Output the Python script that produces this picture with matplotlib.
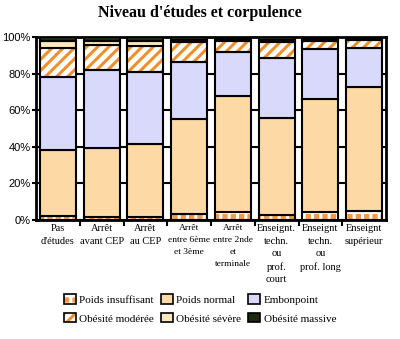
import matplotlib
matplotlib.use("Agg")
import matplotlib.pyplot as plt
import numpy as np
from matplotlib.patches import Patch

# categories (niveau d'etudes)
categories = ["Pas\nd'études", "Arrêt\navant CEP", "Arrêt\nau CEP",
              "Arrêt\nentre 6ème\net 3ème", "Arrêt\nentre 2nde\net\nterminale",
              "Enseignt.\ntechn.\nou\nprof.\ncourt", "Enseignt\ntechn.\nou\nprof. long",
              "Enseignt\nsupérieur"]

# shares in %
insuffisant = [2.0, 1.5, 1.5, 3.5, 4.3, 2.8, 4.3, 5.0]
normal = [36.3, 38.0, 40.0, 51.5, 63.7, 52.8, 61.7, 67.4]
embonpoint = [39.7, 42.5, 39.3, 31.3, 24.0, 32.7, 27.3, 21.7]
moderee = [15.8, 13.6, 14.2, 11.0, 5.8, 9.1, 4.7, 4.3]
severe = [4.2, 2.2, 2.8, 1.3, 1.0, 1.2, 1.0, 0.8]
massive = [2.0, 2.2, 2.2, 1.4, 1.2, 1.4, 1.0, 0.8]

labels = ["Poids insuffisant", "Poids normal", "Embonpoint",
          "Obésité modérée", "Obésité sévère", "Obésité massive"]

orange = '#f0902a'
# (face, hatch, hatch color)
styles = [('#f29a45', '++', 'white'),
          ('#fdd9a6', None, None),
          ('#d9d9fb', None, None),
          ('white', '///', orange),
          ('#fde8bc', None, None),
          ('#1e2a10', None, None)]

plt.rcParams['hatch.linewidth'] = 2.2

fig = plt.figure(figsize=(4, 3.39), dpi=100)
ax = fig.add_axes([0.09, 0.351, 0.875, 0.54])

x = np.arange(len(categories))
width = 0.82
series = [insuffisant, normal, embonpoint, moderee, severe, massive]
bottom = np.zeros(len(categories))
for vals, (face, hatch, hcol) in zip(series, styles):
    vals = np.array(vals)
    if hatch:
        ax.bar(x, vals, width, bottom=bottom, color=face, hatch=hatch,
               edgecolor=hcol, linewidth=0, zorder=2)
        ax.bar(x, vals, width, bottom=bottom, fill=False,
               edgecolor='black', linewidth=1.5, zorder=3)
    else:
        ax.bar(x, vals, width, bottom=bottom, color=face,
               edgecolor='black', linewidth=1.5, zorder=3)
    bottom += vals

ax.set_xlim(-0.5, len(categories) - 0.5)
ax.set_ylim(0, 100)
ax.set_yticks([0, 20, 40, 60, 80, 100])
ax.set_yticklabels(['0%', '20%', '40%', '60%', '80%', '100%'], fontsize=8,
                   family='Liberation Sans')
ax.yaxis.grid(True, color='black', linewidth=1.5, zorder=0)
ax.set_axisbelow(True)

ax.set_xticks(x)
ax.set_xticklabels(categories, fontsize=7.5, family='Liberation Serif',
                   linespacing=1.5)
# the two long "entre ..." labels a bit smaller so they don't touch
for i in (3, 4):
    ax.get_xticklabels()[i].set_fontsize(6.8)
    ax.get_xticklabels()[i].set_linespacing(1.65)
ax.tick_params(axis='x', length=0, pad=3)
ax.set_xticks(x[:-1] + 0.5, minor=True)
ax.tick_params(axis='x', which='minor', length=4, width=1.5, direction='out')
ax.tick_params(axis='y', length=3, width=1.5, direction='out', pad=1)

for s in ax.spines.values():
    s.set_linewidth(2)

fig.text(0.5, 1 - 13 / 339, "Niveau d'études et corpulence", ha='center',
         va='center', fontsize=11.5, fontweight='bold', family='Liberation Serif')

# legend with row-wise order
handles = []
for face, hatch, hcol in styles:
    if hatch:
        handles.append((Patch(facecolor=face, hatch=hatch, edgecolor=hcol, linewidth=0),
                        Patch(fill=False, edgecolor='black', linewidth=1.2)))
    else:
        handles.append(Patch(facecolor=face, edgecolor='black', linewidth=1.2))
order = [0, 3, 1, 4, 2, 5]
fig.legend([handles[i] for i in order], [labels[i] for i in order],
           loc='center', bbox_to_anchor=(0.5, 1 - 309 / 339), ncol=3,
           frameon=False, prop={'family': 'Liberation Serif', 'size': 8},
           handlelength=1.1, handleheight=0.9, handletextpad=0.3,
           columnspacing=0.6, labelspacing=0.75, borderaxespad=0)

fig.savefig('out.png', dpi=100)
